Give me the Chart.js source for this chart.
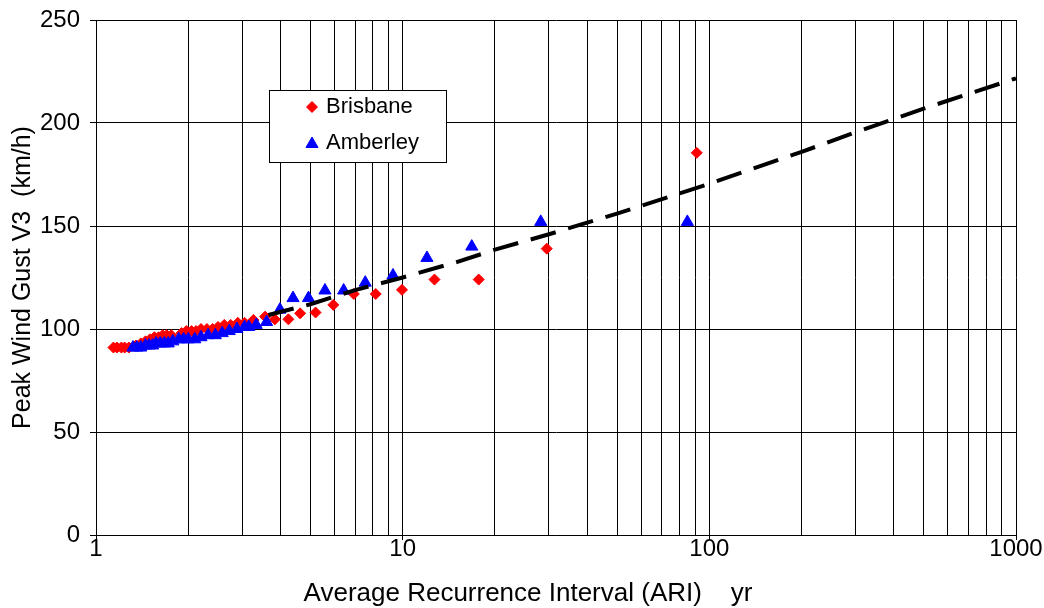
<!DOCTYPE html>
<html>
<head>
<meta charset="utf-8">
<script src="https://cdn.jsdelivr.net/npm/chart.js@4.4.0/dist/chart.umd.min.js"></script>
<style>
  html, body { margin: 0; padding: 0; background: #fff; }
  #wrap { width: 1044px; height: 608px; }
</style>
</head>
<body>
<div id="wrap"><canvas id="gustChart" width="1044" height="608"></canvas></div>
<script>
// Brisbane (red diamonds)
const brisbaneAri = [1.14, 1.17, 1.21, 1.24, 1.28, 1.35, 1.40, 1.45, 1.50, 1.55, 1.60, 1.65, 1.70, 1.76,
  1.90, 1.97, 2.05, 2.12, 2.20, 2.30, 2.40, 2.50, 2.62, 2.75, 2.90, 3.05, 3.26, 3.56, 3.83, 4.24,
  4.63, 5.2, 5.94, 6.93, 8.17, 9.95, 12.7, 17.7, 29.5, 91];
const brisbaneGust = [91, 91, 91, 91, 91, 92, 93, 94, 95, 96, 96, 97, 97, 97,
  98, 99, 99, 99, 100, 100, 100, 101, 102, 102, 103, 103, 104.4, 106, 104.7, 104.7,
  107.6, 108, 111.7, 117, 117, 119, 124, 124, 139, 185.5];

// Amberley (blue triangles)
const amberleyAri = [1.32, 1.36, 1.40, 1.45, 1.49, 1.53, 1.57, 1.62, 1.67, 1.72, 1.78, 1.86, 1.93, 2.0,
  2.1, 2.2, 2.32, 2.45, 2.58, 2.72, 2.88, 3.05, 3.15, 3.33, 3.6, 3.98, 4.39, 4.93, 5.58, 6.42,
  7.55, 9.3, 12.0, 16.8, 28.2, 84.8];
const amberleyGust = [91, 91, 91, 92, 92, 92, 93, 93, 93, 93, 94, 95, 95, 95,
  95, 96, 97, 97, 98, 99, 100, 101, 101, 102, 103.4, 109.4, 115, 115, 118.7, 118.7,
  122.5, 126, 134.5, 140, 152, 152];

// fitted curve (dashed)
const fitAri = [3.65, 5, 7, 10, 15, 20, 30, 50, 100, 200, 300, 500, 1000];
const fitGust = [106.8, 112, 118.9, 125, 132.5, 138.5, 146, 156, 170.5, 186, 195.5, 207, 221.7];

const xTickValues = [1, 2, 3, 4, 5, 6, 7, 8, 9, 10, 20, 30, 40, 50, 60, 70, 80, 90,
  100, 200, 300, 400, 500, 600, 700, 800, 900, 1000];
const xTickLabels = [1, 10, 100, 1000];
const yTicks = [0, 50, 100, 150, 200, 250];
const xTitle = 'Average Recurrence Interval (ARI)    yr';

const toPoints = (xs, ys) => xs.map((x, i) => ({ x: x, y: ys[i] }));
const FONT = 'Arial, "Liberation Sans", sans-serif';

Chart.defaults.font.family = FONT;
Chart.defaults.color = '#000';

// legend box inside the plot + x axis title (Excel centres it on the whole chart)
const boxLegend = {
  id: 'boxLegend',
  afterDraw(chart) {
    const ctx = chart.ctx;
    const left = 269, top = 90, w = 177, h = 72;
    ctx.save();
    ctx.fillStyle = '#fff';
    ctx.fillRect(left, top, w, h);
    ctx.strokeStyle = '#000';
    ctx.lineWidth = 1;
    ctx.strokeRect(left + 0.5, top + 0.5, w, h);

    const rows = [
      { label: 'Brisbane', style: 'rectRot', color: '#ff0000', radius: 5.5, y: 107 },
      { label: 'Amberley', style: 'triangle', color: '#0000ff', radius: 7, y: 143 }
    ];
    rows.forEach(r => {
      ctx.fillStyle = r.color;
      ctx.strokeStyle = r.color;
      ctx.lineWidth = 1;
      Chart.helpers.drawPoint(ctx, {
        pointStyle: r.style, radius: r.radius, rotation: 0, borderWidth: 1
      }, 312, r.y + (r.style === 'triangle' ? 1 : 0));
      ctx.fillStyle = '#000';
      ctx.font = '22px ' + FONT;
      ctx.textAlign = 'left';
      ctx.textBaseline = 'middle';
      ctx.fillText(r.label, 326, r.y);
    });

    ctx.fillStyle = '#000';
    ctx.font = '26px ' + FONT;
    ctx.textAlign = 'center';
    ctx.textBaseline = 'middle';
    ctx.fillText(xTitle, 528, 594);
    ctx.restore();
  }
};

const chart = new Chart(document.getElementById('gustChart'), {
  type: 'scatter',
  data: {
    datasets: [
      {
        label: 'Fit',
        data: toPoints(fitAri, fitGust),
        showLine: true,
        borderColor: '#000',
        borderWidth: 4,
        borderDash: [26, 13],
        pointRadius: 0,
        fill: false,
        order: 0
      },
      {
        label: 'Amberley',
        data: toPoints(amberleyAri, amberleyGust),
        pointStyle: 'triangle',
        pointRadius: 7,
        backgroundColor: '#0000ff',
        borderColor: '#0000ff',
        borderWidth: 1,
        order: 1
      },
      {
        label: 'Brisbane',
        data: toPoints(brisbaneAri, brisbaneGust),
        pointStyle: 'rectRot',
        pointRadius: 5.5,
        backgroundColor: '#ff0000',
        borderColor: '#ff0000',
        borderWidth: 1,
        order: 2
      }
    ]
  },
  options: {
    responsive: false,
    animation: false,
    layout: { padding: { top: 20, right: 28, bottom: 0, left: 0 } },
    plugins: {
      legend: { display: false },
      tooltip: { enabled: false }
    },
    scales: {
      x: {
        type: 'logarithmic',
        min: 1,
        max: 1000,
        afterBuildTicks: (scale) => {
          scale.ticks = xTickValues.map(v => ({ value: v, major: xTickLabels.includes(v) }));
        },
        afterFit: (scale) => { scale.height = 73; },
        ticks: {
          autoSkip: false,
          maxRotation: 0,
          padding: -5,
          font: { size: 24 },
          callback: (v) => xTickLabels.includes(v) ? String(v) : ''
        },
        grid: {
          color: '#000',
          lineWidth: 1,
          tickLength: 5,
          tickColor: (ctx) => ctx.tick && xTickLabels.includes(ctx.tick.value) ? '#000' : 'rgba(0,0,0,0)'
        },
        border: { color: '#000', width: 1 },
        title: { display: false }
      },
      y: {
        min: 0,
        max: 250,
        afterBuildTicks: (scale) => {
          scale.ticks = yTicks.map(v => ({ value: v }));
        },
        afterFit: (scale) => {
          scale.width = 96;
          scale.paddingTop = 0;
          scale.paddingBottom = 0;
        },
        ticks: {
          padding: 10,
          font: { size: 24 }
        },
        grid: {
          color: '#000',
          lineWidth: 1,
          tickLength: 6,
          tickColor: '#000'
        },
        border: { color: '#000', width: 1 },
        title: {
          display: true,
          text: 'Peak Wind Gust V3  (km/h)',
          font: { size: 25 },
          padding: { top: 8, bottom: 0 }
        }
      }
    }
  },
  plugins: [boxLegend]
});
</script>
</body>
</html>
